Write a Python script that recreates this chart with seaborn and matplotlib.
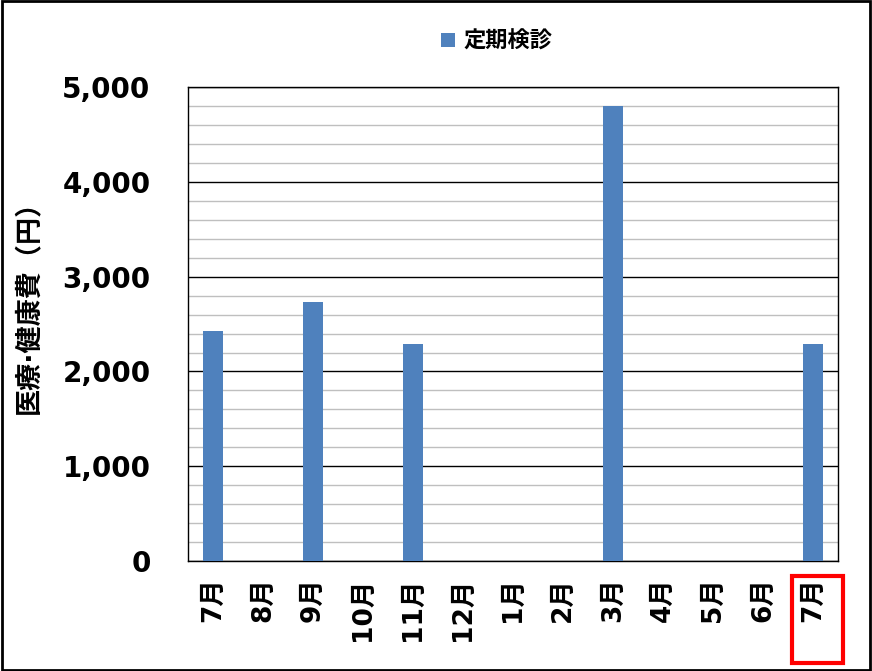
import pandas as pd
import matplotlib.pyplot as plt
import seaborn as sns
from matplotlib.patches import Rectangle
from matplotlib.ticker import MultipleLocator, StrMethodFormatter
import matplotlib.transforms as mtrans

# data
months = ['7月', '8月', '9月', '10月', '11月', '12月', '1月', '2月', '3月', '4月', '5月', '6月', '7月']
checkup = [2430, 0, 2730, 0, 2290, 0, 0, 0, 4800, 0, 0, 0, 2290]
series_name = '定期検診'
ylabel = '医療·健康費（円）'

df = pd.DataFrame({'slot': list(range(len(months))), 'value': checkup, 'series': series_name})

sns.set_theme()
sns.set_style("white")
plt.rcParams['font.family'] = ['DejaVu Sans', 'Noto Sans CJK JP']
plt.rcParams['font.weight'] = 'bold'
plt.rcParams['text.color'] = 'black'
plt.rcParams['xtick.color'] = 'black'
plt.rcParams['ytick.color'] = 'black'
plt.rcParams['axes.labelcolor'] = 'black'

fig = plt.figure(figsize=(8.72, 6.71), dpi=100)
ax = fig.add_axes([0.2156, 0.164, 0.7454, 0.706])

g = sns.barplot(data=df, x='slot', y='value', hue='series', palette=['#4F81BD'],
                width=0.4, saturation=1, ax=ax, zorder=3, linewidth=0)

ax.set_ylim(0, 5000)
ax.set_xlim(-0.5, len(months) - 0.5)
ax.yaxis.set_major_locator(MultipleLocator(1000))
ax.yaxis.set_minor_locator(MultipleLocator(200))
ax.yaxis.set_major_formatter(StrMethodFormatter('{x:,.0f}'))
ax.grid(which='minor', axis='y', color='#BFBFBF', linewidth=1, zorder=0)
ax.grid(which='major', axis='y', color='black', linewidth=1, zorder=1)
ax.set_axisbelow(True)
for s in ax.spines.values():
    s.set_color('black')
    s.set_linewidth(1)

ax.set_xticks(range(len(months)))
ax.set_xticklabels(months, rotation=90, fontsize=19, fontweight='bold')
ax.tick_params(axis='y', labelsize=20, pad=27, length=0)
ax.tick_params(axis='x', pad=12, length=0)
for t in ax.get_yticklabels():
    t.set_fontweight('bold')
ax.set_xlabel(None)
ax.set_ylabel(ylabel, fontsize=19.5, fontweight='bold')
ax.yaxis.set_label_coords(-0.224, 0.55)

ax.legend(loc='center', bbox_to_anchor=(0.57, 0.939), bbox_transform=fig.transFigure,
          frameon=False, prop={'size': 16, 'weight': 'bold'}, handlelength=0.6,
          handleheight=0.6, handletextpad=0.4)

# red box round the last month label
tr = mtrans.blended_transform_factory(ax.transData, ax.transAxes)
ax.add_patch(Rectangle((len(months) - 1 - 0.42, -0.215), 1.02, 0.183, transform=tr,
                       fill=False, edgecolor='#FF0000', linewidth=3, clip_on=False))

# outer border
fig.patches.append(Rectangle((0.002, 0.002), 0.996, 0.996, transform=fig.transFigure,
                             fill=False, edgecolor='black', linewidth=2))

plt.savefig('out.png', dpi=100)
